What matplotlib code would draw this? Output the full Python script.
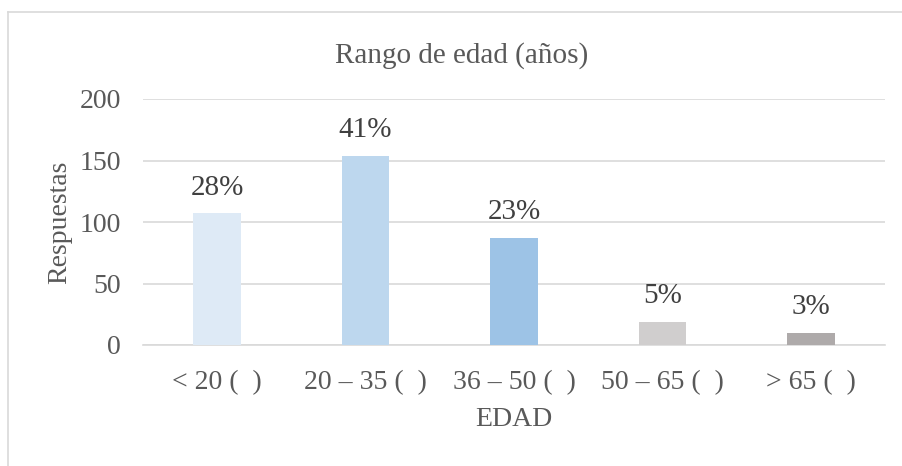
import numpy as np
import matplotlib
matplotlib.use("Agg")
import matplotlib.pyplot as plt
from matplotlib.lines import Line2D

plt.rcParams['font.family'] = ['Liberation Serif', 'DejaVu Serif']

# Data
categories = ["< 20 (  )", "20 – 35 (  )", "36 – 50 (  )", "50 – 65 (  )", "> 65 (  )"]
respuestas = [107, 154, 87, 19, 10]
porcentajes = ["28%", "41%", "23%", "5%", "3%"]
bar_colors = ["#DEEAF6", "#BDD7EE", "#9DC3E6", "#D0CECE", "#AEAAAA"]

W, H = 902, 466
fig = plt.figure(figsize=(W / 100, H / 100), dpi=100)
ax = fig.add_axes([143 / W, 1 - 345 / H, 742 / W, 246 / H])

x = np.arange(len(categories))
ax.bar(x, respuestas, width=0.32, color=bar_colors, zorder=3)

for xi, val, pct in zip(x, respuestas, porcentajes):
    ax.annotate(pct, (xi, val), xytext=(0, 9), textcoords="offset points",
                ha="center", va="bottom", fontsize=21, color="#404040")

ax.set_xlim(-0.5, len(categories) - 0.5)
ax.set_ylim(0, 200)
ax.set_yticks([0, 50, 100, 150, 200])
ax.set_xticks(x)
ax.set_xticklabels(categories)
ax.grid(axis="y", color="#D9D9D9", linewidth=1.2, zorder=0)
ax.tick_params(axis="both", length=0, labelsize=20, labelcolor="#595959")
ax.tick_params(axis="x", pad=18)
ax.tick_params(axis="y", pad=16)
for s in ["top", "right", "left"]:
    ax.spines[s].set_visible(False)
ax.spines["bottom"].set_color("#D9D9D9")
ax.spines["bottom"].set_linewidth(1.2)

ax.set_xlabel("EDAD", fontsize=20, color="#595959")
ax.xaxis.label.set_va("center")
ax.xaxis.set_label_coords(0.5, (345 - 420) / 246)
ax.set_ylabel("Respuestas", fontsize=20, color="#595959")
ax.yaxis.label.set_va("center")
ax.yaxis.set_label_coords((60 - 143) / 742, 0.5)

fig.text(462 / W, 1 - 56 / H, "Rango de edad (años)", ha="center", va="center",
         fontsize=21, color="#595959")

# chart border (left and top edges visible)
fig.add_artist(Line2D([8 / W, 8 / W], [0, 1 - 12 / H], transform=fig.transFigure,
                      color="#D9D9D9", linewidth=1.2))
fig.add_artist(Line2D([8 / W, 1], [1 - 12 / H, 1 - 12 / H], transform=fig.transFigure,
                      color="#D9D9D9", linewidth=1.2))

fig.savefig("out.png", dpi=100)
